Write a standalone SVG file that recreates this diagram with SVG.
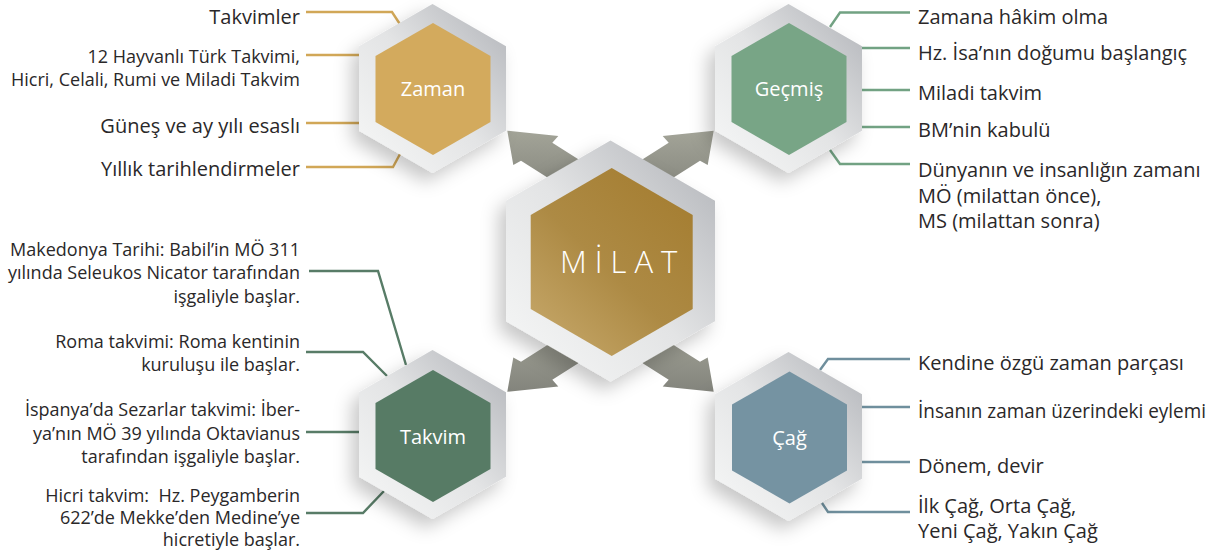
<svg xmlns="http://www.w3.org/2000/svg" width="1222" height="552" viewBox="0 0 1222 552">
<defs>
<linearGradient id="outerG" x1="0.15" y1="0.9" x2="0.9" y2="0.15">
<stop offset="0" stop-color="#f2f3f3"/>
<stop offset="0.5" stop-color="#e3e4e5"/>
<stop offset="1" stop-color="#bdbfc3"/>
</linearGradient>
<linearGradient id="milatG" x1="0.9" y1="0.1" x2="0.2" y2="0.95">
<stop offset="0" stop-color="#a57e32"/>
<stop offset="0.55" stop-color="#ad8a44"/>
<stop offset="1" stop-color="#c2a364"/>
</linearGradient>
<linearGradient id="arrowG" x1="0" y1="0" x2="0" y2="1">
<stop offset="0" stop-color="#a3a498"/>
<stop offset="1" stop-color="#83847c"/>
</linearGradient>
<filter id="sh" x="-30%" y="-30%" width="160%" height="160%">
<feDropShadow dx="-7" dy="9" stdDeviation="9" flood-color="#000" flood-opacity="0.22"/>
</filter>
<style>
.outer{fill:url(#outerG);filter:url(#sh)}
.lbl{font-family:"Open Sans","Noto Sans",sans-serif;font-size:20px;fill:#ffffff;text-anchor:middle}
.rt{font-family:"Open Sans","Noto Sans",sans-serif;font-size:20px;fill:#2a2829}
.lt{font-family:"Open Sans","Noto Sans",sans-serif;font-size:20px;fill:#2a2829;text-anchor:end}
.ls{font-family:"Open Sans","Noto Sans",sans-serif;font-size:18px;fill:#2a2829;text-anchor:end}
.ln{fill:none;stroke-width:2.4}
.gold{stroke:#d1a757}
.green{stroke:#72a283}
.dgreen{stroke:#587c67}
.blue{stroke:#6f8f9d}
.arrow{fill:url(#arrowG)}
</style>
</defs>
<rect width="1222" height="552" fill="#ffffff"/>

<g id="connectors">
<path class="ln gold" d="M306 12 H392 L399.5 23.5"/>
<path class="ln gold" d="M306 55 H360"/>
<path class="ln gold" d="M306 123 H360"/>
<path class="ln gold" d="M306 167 H393 L400 154"/>
<path class="ln green" d="M830 27 L840 12.5 H910"/>
<path class="ln green" d="M861 48 H910"/>
<path class="ln green" d="M861 90 H910"/>
<path class="ln green" d="M861 127 H910"/>
<path class="ln green" d="M830 150 L840 164 H910"/>
<path class="ln dgreen" d="M309 271 H378 L406 365"/>
<path class="ln dgreen" d="M306 352 H363 L387 376"/>
<path class="ln dgreen" d="M306 432 H360"/>
<path class="ln dgreen" d="M306 513 H363 L384 491"/>
<path class="ln blue" d="M820 370 L828 359 H910"/>
<path class="ln blue" d="M861 407 H910"/>
<path class="ln blue" d="M861 462 H910"/>
<path class="ln blue" d="M822 503 L828 512 H910"/>
<polygon class="arrow" points="507.3,130.7 558.3,136 552.3,142.7 600,173 575,195 521,160.7 513.3,165"/>
<polygon class="arrow" points="713.7,130.7 662.7,136 668.7,142.7 621,173 646,195 700,160.7 707.7,165"/>
<polygon class="arrow" points="507.3,391.8 558.3,386.5 552.3,379.8 600,349.5 575,327.5 521,361.8 513.3,357.5"/>
<polygon class="arrow" points="713.7,391.8 662.7,386.5 668.7,379.8 621,349.5 646,327.5 700,361.8 707.7,357.5"/>
</g>

<g id="node-zaman">
<polygon class="outer" points="432.5,4 506,46.25 506,130.75 432.5,173 359,130.75 359,46.25"/>
<polygon fill="#d3aa5d" points="433,23 490.5,56 490.5,122 433,155 375.5,122 375.5,56"/>
<text class="lbl" x="433" y="96">Zaman</text>
<text class="lt" x="300" y="24">Takvimler</text>
<text class="ls" x="300" y="63">12 Hayvanlı Türk Takvimi,</text>
<text class="ls" x="300" y="86">Hicri, Celali, Rumi ve Miladi Takvim</text>
<text class="lt" x="300" y="133">Güneş ve ay yılı esaslı</text>
<text class="lt" x="300" y="176">Yıllık tarihlendirmeler</text>
</g>

<g id="node-gecmis">
<polygon class="outer" points="788.5,4 862,46.25 862,130.75 788.5,173 715,130.75 715,46.25"/>
<polygon fill="#78a586" points="789,23 846.5,56 846.5,122 789,155 731.5,122 731.5,56"/>
<text class="lbl" x="789" y="96">Geçmiş</text>
<text class="rt" x="918" y="24">Zamana hâkim olma</text>
<text class="rt" x="918" y="60">Hz. İsa’nın doğumu başlangıç</text>
<text class="rt" x="918" y="100">Miladi takvim</text>
<text class="rt" x="918" y="137">BM’nin kabulü</text>
<text class="rt" x="918" y="177">Dünyanın ve insanlığın zamanı</text>
<text class="rt" x="918" y="203">MÖ (milattan önce),</text>
<text class="rt" x="918" y="228">MS (milattan sonra)</text>
</g>

<g id="node-takvim">
<polygon class="outer" points="432.5,350 506,392.25 506,476.75 432.5,519 359,476.75 359,392.25"/>
<polygon fill="#577b65" points="433,370 490.5,403 490.5,469 433,502 375.5,469 375.5,403"/>
<text class="lbl" x="433" y="444">Takvim</text>
<text class="ls" x="300" y="256">Makedonya Tarihi: Babil’in MÖ 311</text>
<text class="ls" x="300" y="279">yılında Seleukos Nicator tarafından</text>
<text class="ls" x="300" y="303">işgaliyle başlar.</text>
<text class="ls" x="300" y="348">Roma takvimi: Roma kentinin</text>
<text class="ls" x="300" y="371">kuruluşu ile başlar.</text>
<text class="ls" x="300" y="416">İspanya’da Sezarlar takvimi: İber-</text>
<text class="ls" x="300" y="440">ya’nın MÖ 39 yılında Oktavianus</text>
<text class="ls" x="300" y="463">tarafından işgaliyle başlar.</text>
<text class="ls" x="300" y="502" xml:space="preserve" style="white-space:pre">Hicri takvim:  Hz. Peygamberin</text>
<text class="ls" x="300" y="524">622’de Mekke’den Medine’ye</text>
<text class="ls" x="300" y="546">hicretiyle başlar.</text>
</g>

<g id="node-cag">
<polygon class="outer" points="788.5,352 862,394.25 862,478.75 788.5,521 715,478.75 715,394.25"/>
<polygon fill="#7593a2" points="789.5,371.5 847,404.5 847,470.5 789.5,503.5 732,470.5 732,404.5"/>
<text class="lbl" x="789.5" y="445">Çağ</text>
<text class="rt" x="918" y="370">Kendine özgü zaman parçası</text>
<text class="rt" x="918" y="418" textLength="288" lengthAdjust="spacingAndGlyphs">İnsanın zaman üzerindeki eylemi</text>
<text class="rt" x="918" y="473">Dönem, devir</text>
<text class="rt" x="918" y="513">İlk Çağ, Orta Çağ,</text>
<text class="rt" x="918" y="538">Yeni Çağ, Yakın Çağ</text>
</g>

<g id="node-milat">
<polygon class="outer" points="610.5,140.5 715,200.75 715,321.25 610.5,381.5 506,321.25 506,200.75"/>
<polygon fill="url(#milatG)" points="611.7,168 692.7,215 692.7,309 611.7,356 530.7,309 530.7,215"/>
<text x="560" y="273" style="font-family:'Open Sans','Noto Sans',sans-serif;font-size:31px;font-weight:300;letter-spacing:8px;fill:#ffffff">MİLAT</text>
</g>
</svg>
